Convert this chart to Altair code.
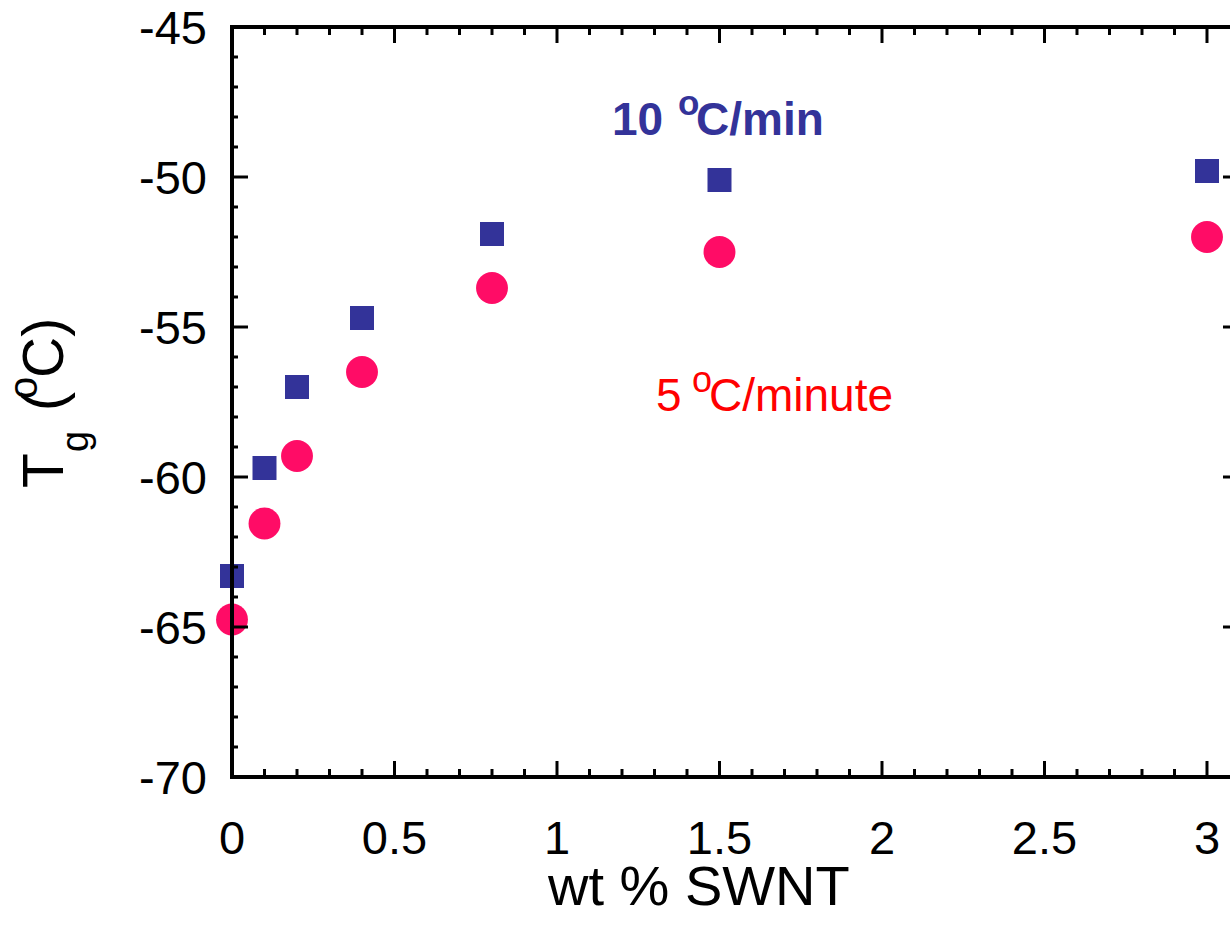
import altair as alt
import pandas as pd

# ---- data ----
wt = [0, 0.1, 0.2, 0.4, 0.8, 1.5, 3]
tg_10 = [-63.3, -59.7, -57.0, -54.7, -51.9, -50.1, -49.8]
tg_5 = [-64.75, -61.55, -59.3, -56.5, -53.7, -52.5, -52.0]

x_major = [0, 0.5, 1, 1.5, 2, 2.5, 3]
x_labels = ["0", "0.5", "1", "1.5", "2", "2.5", "3"]
x_minor = [round(i * 0.1, 1) for i in range(31) if i % 5 != 0]
y_major = [-70, -65, -60, -55, -50, -45]
y_labels = ["-70", "-65", "-60", "-55", "-50", "-45"]
y_minor = [v for v in range(-70, -44) if v % 5 != 0]

FONT = "Liberation Sans"
W, H = 998, 750
XMAX = 3.0708
xs = alt.Scale(domain=[0, XMAX], nice=False, zero=False)
ys = alt.Scale(domain=[-70, -45], nice=False, zero=False)

df = pd.DataFrame({"wt": wt, "tg10": tg_10, "tg5": tg_5})

squares = alt.Chart(df).mark_point(filled=True, shape="square", size=576, color="#333399",
                                   opacity=1).encode(
    x=alt.X("wt:Q", scale=xs, axis=None),
    y=alt.Y("tg10:Q", scale=ys, axis=None),
)
circles = alt.Chart(df).mark_point(filled=True, shape="circle", size=1018, color="#FF0C66",
                                   opacity=1).encode(
    x=alt.X("wt:Q", scale=xs, axis=None),
    y=alt.Y("tg5:Q", scale=ys, axis=None),
)

one = pd.DataFrame({"a": [0]})
frame_left = alt.Chart(one).mark_rule(strokeWidth=4, color="black").encode(
    x=alt.value(0), y=alt.value(-2), y2=alt.value(H + 2))
frame_top = alt.Chart(one).mark_rule(strokeWidth=4, color="black").encode(
    y=alt.value(0), x=alt.value(-2), x2=alt.value(W + 20))
frame_bottom = alt.Chart(one).mark_rule(strokeWidth=4, color="black").encode(
    y=alt.value(H), x=alt.value(-2), x2=alt.value(W + 20))


def xticks(vals, y0, y1):
    return alt.Chart(pd.DataFrame({"v": vals})).mark_rule(strokeWidth=3, color="black").encode(
        x=alt.X("v:Q", scale=xs, axis=None), y=alt.value(y0), y2=alt.value(y1))


def yticks(vals, x0, x1):
    return alt.Chart(pd.DataFrame({"v": vals})).mark_rule(strokeWidth=3, color="black").encode(
        y=alt.Y("v:Q", scale=ys, axis=None), x=alt.value(x0), x2=alt.value(x1))


ticks = [
    xticks(x_major, H, H - 16), xticks(x_minor, H, H - 8),
    xticks(x_major, 0, 16), xticks(x_minor, 0, 8),
    yticks(y_major, 0, 16), yticks(y_minor, 0, 6),
    yticks(y_major, 1007, 991),
]

# tick labels
xlab = alt.Chart(pd.DataFrame({"v": x_major, "t": x_labels})).mark_text(
    align="center", baseline="alphabetic", font=FONT, fontSize=47, color="black").encode(
    x=alt.X("v:Q", scale=xs, axis=None), y=alt.value(H + 77), text="t:N")
ylab = alt.Chart(pd.DataFrame({"v": y_major, "t": y_labels})).mark_text(
    align="right", baseline="alphabetic", font=FONT, fontSize=47, color="black", dy=17).encode(
    y=alt.Y("v:Q", scale=ys, axis=None), x=alt.value(-25), text="t:N")

# ---- text (titles and annotations), layout positions in pixels ----
normal_txt = pd.DataFrame([
    {"t": "wt % SWNT", "px": 316, "py": 878, "fs": 56, "ang": 0, "col": "black"},
    {"t": "T", "px": -169, "py": 461, "fs": 57, "ang": 270, "col": "black"},
    {"t": "g", "px": -144, "py": 425, "fs": 38, "ang": 270, "col": "black"},
    {"t": "(", "px": -169, "py": 384, "fs": 57, "ang": 270, "col": "black"},
    {"t": "o", "px": -195, "py": 372, "fs": 40, "ang": 270, "col": "black"},
    {"t": "C)", "px": -169, "py": 351, "fs": 57, "ang": 270, "col": "black"},
    {"t": "5", "px": 424, "py": 384, "fs": 46, "ang": 0, "col": "#FF0000"},
    {"t": "o", "px": 460, "py": 365, "fs": 36, "ang": 0, "col": "#FF0000"},
    {"t": "C/minute", "px": 477, "py": 384, "fs": 46, "ang": 0, "col": "#FF0000"},
])
bold_txt = pd.DataFrame([
    {"t": "10", "px": 380, "py": 108, "fs": 46, "ang": 0, "col": "#333399"},
    {"t": "o", "px": 446, "py": 88, "fs": 35, "ang": 0, "col": "#333399"},
    {"t": "C/min", "px": 464, "py": 108, "fs": 46, "ang": 0, "col": "#333399"},
])


def text_layer(d, weight):
    return alt.Chart(d).mark_text(align="left", baseline="alphabetic", font=FONT,
                                  fontWeight=weight).encode(
        x=alt.X("px:Q", scale=None, axis=None),
        y=alt.Y("py:Q", scale=None, axis=None),
        text="t:N",
        size=alt.Size("fs:Q", scale=None, legend=None),
        angle=alt.Angle("ang:Q", scale=None, legend=None),
        color=alt.Color("col:N", scale=None, legend=None),
    )


chart = alt.layer(
    squares, circles, *ticks, frame_left, frame_top, frame_bottom, xlab, ylab,
    text_layer(normal_txt, "normal"), text_layer(bold_txt, "bold"),
).properties(
    width=W, height=H,
    autosize=alt.AutoSizeParams(type="none"),
    padding={"left": 232, "top": 27, "right": 0, "bottom": 157},
    background="white",
).configure_view(stroke=None)

chart.save("out.html", embed_options={"renderer": "svg", "actions": False})
